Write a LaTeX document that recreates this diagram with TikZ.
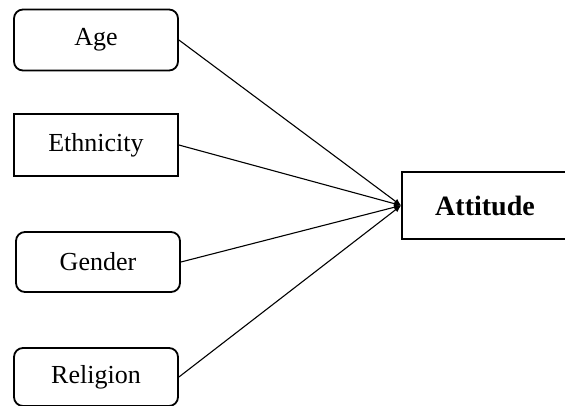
\documentclass[tikz,border=0pt]{standalone}
\usepackage{fontspec}
\setmainfont{Liberation Serif}
\usetikzlibrary{arrows.meta}
\begin{document}
\begin{tikzpicture}[x=1pt,y=-1pt,
  box/.style={draw, line width=1.8pt, minimum width=164pt, inner sep=0pt, font=\fontsize{26}{30}\selectfont},
  rbox/.style={box, rounded corners=9pt},
  conn/.style={line width=1.1pt, -{Latex[length=7pt,width=6pt]}}]
\useasboundingbox (0,0) rectangle (565,405);
\clip (0,0) rectangle (565,405);
\node[rbox, minimum height=61pt] (age) at (96,40) {Age};
\node[box, minimum height=62pt] (eth) at (96,145) {Ethnicity};
\node[rbox, minimum height=60pt] (gen) at (98,262) {Gender};
\node[rbox, minimum height=58pt] (rel) at (96,377) {Religion};
\node[box, minimum width=166pt, minimum height=67pt, font=\fontsize{28}{32}\selectfont\bfseries] (att) at (485,205.5) {Attitude};
\draw[conn] (age.east) -- (att.west);
\draw[conn] (eth.east) -- (att.west);
\draw[conn] (gen.east) -- (att.west);
\draw[conn] (rel.east) -- (att.west);
\end{tikzpicture}
\end{document}
